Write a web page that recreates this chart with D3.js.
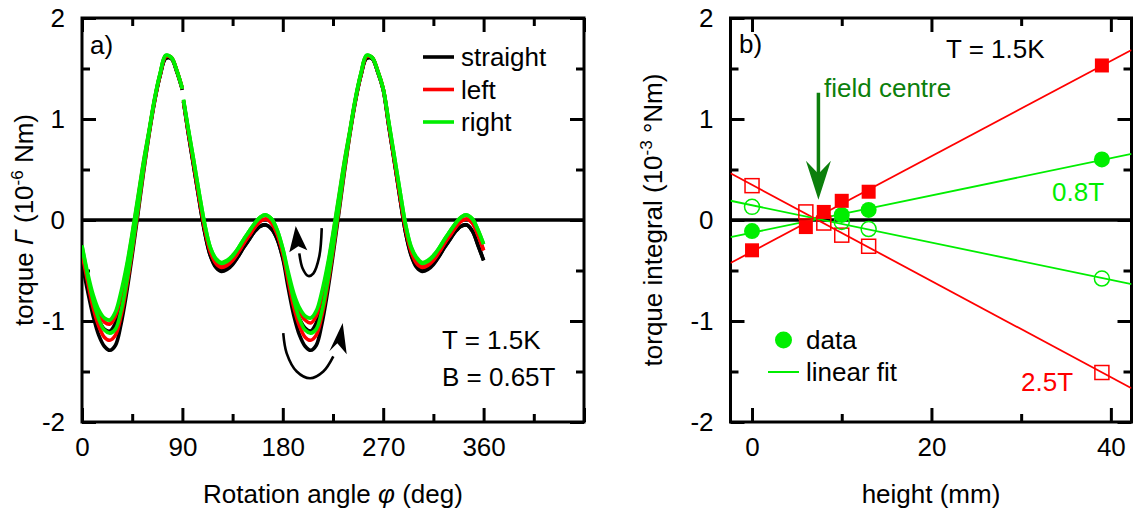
<!DOCTYPE html>
<html><head><meta charset="utf-8">
<script src="https://cdn.jsdelivr.net/npm/d3@7"></script>
<style>body{margin:0;background:#fff}svg{display:block}text{font-family:"Liberation Sans",Arial,Helvetica,sans-serif}</style>
</head><body><svg id="c" width="1136" height="514"></svg>
<script>
// ---------- Panel a) data: torque vs rotation angle ----------
const angles = [0,5,10,15,20,25,30,35,40,45,50,55,60,65,70,75,80,85,90,
  91,95,100,105,110,115,120,125,130,135,140,145,150,155,160,165,170,175,
  180,185,190,195,200,205,210,215,220,225,230,235,240,245,250,255,260,265,270,
  275,280,285,290,295,300,305,310,315,320,325,330,335,340,345,350,355,360];
const gapAfter = 90; // data missing between 90 and 91 deg

const greenDown = [-0.25,-0.52,-0.74,-0.89,-0.97,-0.99,-0.91,-0.71,-0.45,-0.13,0.22,0.57,0.88,1.20,1.45,1.63,1.61,1.48,1.30,
  1.19,0.92,0.60,0.27,-0.04,-0.27,-0.38,-0.42,-0.40,-0.35,-0.28,-0.19,-0.11,-0.03,0.03,0.05,0.01,-0.10,
  -0.28,-0.52,-0.73,-0.87,-0.95,-0.97,-0.90,-0.71,-0.45,-0.13,0.22,0.57,0.88,1.20,1.45,1.63,1.61,1.48,1.30,
  0.97,0.63,0.29,-0.04,-0.26,-0.37,-0.42,-0.40,-0.35,-0.28,-0.19,-0.11,-0.03,0.03,0.05,0.01,-0.10,-0.24];
const greenUp = [-0.26,-0.55,-0.80,-0.98,-1.09,-1.12,-1.08,-0.90,-0.62,-0.28,0.10,0.50,0.86,1.19,1.45,1.63,1.61,1.48,1.30,
  1.19,0.92,0.60,0.27,-0.04,-0.27,-0.39,-0.43,-0.41,-0.36,-0.28,-0.19,-0.11,-0.03,0.03,0.05,0.01,-0.10,
  -0.29,-0.55,-0.80,-0.98,-1.09,-1.12,-1.08,-0.90,-0.62,-0.28,0.10,0.50,0.86,1.19,1.45,1.63,1.61,1.48,1.30,
  0.97,0.63,0.29,-0.04,-0.27,-0.38,-0.43,-0.41,-0.36,-0.28,-0.19,-0.11,-0.03,0.03,0.05,0.01,-0.10,-0.24];
const redDown = [-0.31,-0.57,-0.78,-0.93,-1.01,-1.03,-0.95,-0.75,-0.48,-0.15,0.20,0.56,0.87,1.19,1.44,1.62,1.61,1.48,1.30,
  1.18,0.90,0.57,0.23,-0.08,-0.31,-0.42,-0.46,-0.44,-0.39,-0.32,-0.23,-0.15,-0.07,-0.01,0.01,-0.03,-0.14,
  -0.32,-0.56,-0.77,-0.91,-0.99,-1.02,-0.95,-0.75,-0.48,-0.15,0.20,0.56,0.87,1.19,1.44,1.62,1.61,1.48,1.30,
  0.95,0.60,0.25,-0.08,-0.30,-0.42,-0.46,-0.44,-0.39,-0.32,-0.23,-0.15,-0.07,-0.01,0.01,-0.03,-0.15,-0.30];
const redUp = [-0.32,-0.61,-0.87,-1.05,-1.16,-1.19,-1.14,-0.95,-0.66,-0.31,0.08,0.48,0.85,1.18,1.44,1.62,1.61,1.48,1.30,
  1.18,0.90,0.57,0.23,-0.08,-0.31,-0.43,-0.47,-0.45,-0.40,-0.32,-0.23,-0.15,-0.07,-0.01,0.01,-0.03,-0.14,
  -0.33,-0.61,-0.87,-1.05,-1.16,-1.19,-1.14,-0.95,-0.66,-0.31,0.08,0.48,0.85,1.18,1.44,1.62,1.61,1.48,1.30,
  0.95,0.60,0.25,-0.08,-0.31,-0.43,-0.47,-0.45,-0.40,-0.32,-0.23,-0.15,-0.07,-0.01,0.01,-0.03,-0.15,-0.30];
const blackDown = [-0.41,-0.64,-0.84,-0.99,-1.08,-1.10,-1.02,-0.80,-0.52,-0.18,0.18,0.54,0.86,1.18,1.43,1.60,1.60,1.47,1.29,
  1.17,0.88,0.54,0.20,-0.12,-0.35,-0.46,-0.50,-0.48,-0.43,-0.36,-0.27,-0.19,-0.11,-0.06,-0.05,-0.09,-0.19,
  -0.37,-0.61,-0.83,-0.98,-1.07,-1.10,-1.02,-0.80,-0.52,-0.18,0.18,0.54,0.86,1.18,1.43,1.60,1.60,1.47,1.29,
  0.93,0.58,0.22,-0.12,-0.34,-0.46,-0.50,-0.48,-0.43,-0.36,-0.27,-0.19,-0.11,-0.06,-0.05,-0.11,-0.25,-0.40];
const blackUp = [-0.42,-0.70,-0.95,-1.14,-1.25,-1.29,-1.24,-1.03,-0.72,-0.35,0.05,0.46,0.84,1.17,1.43,1.60,1.60,1.47,1.29,
  1.17,0.88,0.54,0.20,-0.12,-0.35,-0.47,-0.51,-0.49,-0.44,-0.36,-0.27,-0.19,-0.11,-0.06,-0.05,-0.09,-0.19,
  -0.38,-0.68,-0.95,-1.14,-1.25,-1.29,-1.24,-1.03,-0.72,-0.35,0.05,0.46,0.84,1.17,1.43,1.60,1.60,1.47,1.29,
  0.93,0.58,0.22,-0.12,-0.35,-0.47,-0.51,-0.49,-0.44,-0.36,-0.27,-0.19,-0.11,-0.06,-0.05,-0.11,-0.25,-0.40];

const seriesNamesA = ["straight","left","right"];
const seriesColorsA = ["#000000","#ff0000","#00ee00"];
const xTickValsA = [0,90,180,270,360,450];
const xTickLabelsA = ["0","90","180","270","360",""];
const xMinorA = [45,135,225,315,405];
const yTickVals = [-2,-1,0,1,2];
const yTickLabels = ["-2","-1","0","1","2"];
const yMinor = [-1.5,-0.5,0.5,1.5];

// sweep-direction arrows (angle, torque)
const arrowSmallPath = [[214.9,-0.08],[212.7,-0.36],[207.3,-0.53],[202.9,-0.555],[197.8,-0.48],[194.8,-0.33]];
const arrowSmallHead = [[191.6,-0.06],[202.0,-0.30],[193.9,-0.26],[185.8,-0.32]];
const arrowBigPath = [[180.4,-1.12],[183.5,-1.32],[192.5,-1.50],[204.4,-1.567],[216.3,-1.50],[225.3,-1.35]];
const arrowBigHead = [[233.7,-1.02],[221.7,-1.30],[228.9,-1.22],[237.3,-1.33]];

// ---------- Panel b) data: torque integral vs height ----------
const heights25 = [0,6,8,10,13,39];
const int25Filled = [-0.30,-0.07,0.08,0.19,0.28,1.53];
const int25Open = [0.34,0.08,-0.03,-0.15,-0.26,-1.51];
const heights08 = [0,10,13,39];
const int08Filled = [-0.11,0.05,0.10,0.60];
const int08Open = [0.13,-0.02,-0.09,-0.58];
const xTickValsB = [0,20,40];
const xTickLabelsB = ["0","20","40"];
const xMinorB = [10,30];
const fieldCentre = {h: 7.4, top: 1.26, tip: 0.2};

// ---------- drawing ----------
const svg = d3.select("#c");
const FS = 26;
const RED = "#ff0000", GREEN = "#00ee00", DKGREEN = "#0c7f0c";
const yTop = 18, yBot = 422;
const y = d3.scaleLinear().domain([-2,2]).range([yBot, yTop]);
const xA = d3.scaleLinear().domain([0,450]).range([82,584]);
const xB = d3.scaleLinear().domain([-2.4,42.3]).range([730.5,1131.5]);

function frame(x, yTitleX, yTitle, xTitle, xTicks, xLabels, xMinor, clipId){
  const [x0,x1] = x.range();
  const g = svg.append("g");
  const maj = 14, mn = 8, tw = 3;
  const tickStyle = sel => { sel.select(".domain").remove(); sel.selectAll("line").attr("stroke","#000").attr("stroke-width",tw);
    sel.selectAll("text").attr("font-size",FS).attr("fill","#000").style("font-family",'"Liberation Sans",Arial,sans-serif'); };
  g.append("g").attr("transform",`translate(0,${yBot})`)
    .call(d3.axisBottom(x).tickValues(xTicks).tickSize(-maj).tickPadding(16).tickFormat((d,i)=>xLabels[i])).call(tickStyle);
  g.append("g").attr("transform",`translate(0,${yBot})`)
    .call(d3.axisBottom(x).tickValues(xMinor).tickSize(-mn).tickFormat("")).call(tickStyle);
  g.append("g").attr("transform",`translate(0,${yTop})`)
    .call(d3.axisTop(x).tickValues(xTicks).tickSize(-maj).tickFormat("")).call(tickStyle);
  g.append("g").attr("transform",`translate(0,${yTop})`)
    .call(d3.axisTop(x).tickValues(xMinor).tickSize(-mn).tickFormat("")).call(tickStyle);
  g.append("g").attr("transform",`translate(${x0},0)`)
    .call(d3.axisLeft(y).tickValues(yTickVals).tickSize(-maj).tickPadding(17).tickFormat((d,i)=>yTickLabels[i])).call(tickStyle);
  g.append("g").attr("transform",`translate(${x0},0)`)
    .call(d3.axisLeft(y).tickValues(yMinor).tickSize(-mn).tickFormat("")).call(tickStyle);
  g.append("g").attr("transform",`translate(${x1},0)`)
    .call(d3.axisRight(y).tickValues(yTickVals).tickSize(-maj).tickFormat("")).call(tickStyle);
  g.append("g").attr("transform",`translate(${x1},0)`)
    .call(d3.axisRight(y).tickValues(yMinor).tickSize(-mn).tickFormat("")).call(tickStyle);
  g.append("rect").attr("x",x0).attr("y",yTop).attr("width",x1-x0).attr("height",yBot-yTop)
    .attr("fill","none").attr("stroke","#000").attr("stroke-width",3);
  g.append("line").attr("x1",x0).attr("x2",x1).attr("y1",y(0)).attr("y2",y(0)).attr("stroke","#000").attr("stroke-width",3.5);
  const xt = g.append("text").attr("x",(x0+x1)/2).attr("y",503).attr("text-anchor","middle").attr("font-size",FS);
  xTitle(xt);
  const yt = g.append("text").attr("transform",`translate(${yTitleX},${(yTop+yBot)/2}) rotate(-90)`)
    .attr("text-anchor","middle").attr("font-size",FS);
  yTitle(yt);
  svg.append("clipPath").attr("id",clipId).append("rect").attr("x",x0).attr("y",yTop).attr("width",x1-x0).attr("height",yBot-yTop);
  return g;
}

// Panel a frame
frame(xA, 33,
  t => { t.append("tspan").text("torque ");
         t.append("tspan").attr("font-style","italic").text("Γ");
         t.append("tspan").text(" (10");
         t.append("tspan").attr("font-size",17).attr("dy",-10).text("-6");
         t.append("tspan").attr("dy",10).text(" Nm)"); },
  t => { t.append("tspan").text("Rotation angle ");
         t.append("tspan").attr("font-style","italic").text("φ");
         t.append("tspan").text(" (deg)"); },
  xTickValsA, xTickLabelsA, xMinorA, "clipA");

const lineA = d3.line().x(d=>xA(d[0])).y(d=>y(d[1])).curve(d3.curveCatmullRom.alpha(0.5));
const curvesA = [[blackUp,blackDown],[redUp,redDown],[greenUp,greenDown]];
const gA = svg.append("g").attr("clip-path","url(#clipA)");
curvesA.forEach((pair,si)=>{
  pair.forEach(vals=>{
    const pts = angles.map((a,i)=>[a,vals[i]]);
    const segs = [pts.filter(p=>p[0]<=gapAfter), pts.filter(p=>p[0]>gapAfter)];
    segs.forEach(s=>gA.append("path").attr("d",lineA(s)).attr("fill","none")
      .attr("stroke",seriesColorsA[si]).attr("stroke-width",3.6).attr("stroke-linejoin","round"));
  });
});

const arrLine = d3.line().x(d=>xA(d[0])).y(d=>y(d[1])).curve(d3.curveCatmullRom);
[[arrowSmallPath,arrowSmallHead],[arrowBigPath,arrowBigHead]].forEach(([p,h])=>{
  svg.append("path").attr("d",arrLine(p)).attr("fill","none").attr("stroke","#000").attr("stroke-width",2.6);
  svg.append("path").attr("d",d3.line().x(d=>xA(d[0])).y(d=>y(d[1]))(h)+"Z").attr("fill","#000");
});

svg.append("text").attr("x",90).attr("y",54).attr("font-size",FS).text("a)");
seriesNamesA.forEach((n,i)=>{
  const yy = 57 + i*32.5;
  svg.append("line").attr("x1",423).attr("x2",454).attr("y1",yy).attr("y2",yy)
    .attr("stroke",seriesColorsA[i]).attr("stroke-width",3.6);
  svg.append("text").attr("x",461).attr("y",yy).attr("dy","0.35em").attr("font-size",FS).text(n);
});
svg.append("text").attr("x",442).attr("y",340).attr("dy","0.35em").attr("font-size",FS).text("T = 1.5K");
svg.append("text").attr("x",442).attr("y",377).attr("dy","0.35em").attr("font-size",FS).text("B = 0.65T");

// Panel b frame
frame(xB, 662,
  t => { t.append("tspan").text("torque integral (10");
         t.append("tspan").attr("font-size",17).attr("dy",-10).text("-3");
         t.append("tspan").attr("dy",10).text(" °Nm)"); },
  t => { t.text("height (mm)"); },
  xTickValsB, xTickLabelsB, xMinorB, "clipB");

function fit(xs, ys){
  const mx = d3.mean(xs), my = d3.mean(ys);
  let sxy=0, sxx=0;
  xs.forEach((x,i)=>{ sxy += (x-mx)*(ys[i]-my); sxx += (x-mx)*(x-mx); });
  const b = sxy/sxx; return {a: my-b*mx, b};
}
const gB = svg.append("g").attr("clip-path","url(#clipB)");
const [hx0,hx1] = xB.domain();
[[heights25,int25Filled,RED],[heights25,int25Open,RED],[heights08,int08Filled,GREEN],[heights08,int08Open,GREEN]].forEach(([xs,ys,c])=>{
  const f = fit(xs,ys);
  gB.append("line").attr("x1",xB(hx0)).attr("x2",xB(hx1)).attr("y1",y(f.a+f.b*hx0)).attr("y2",y(f.a+f.b*hx1))
    .attr("stroke",c).attr("stroke-width",1.8);
});
const sq = 14;
gB.selectAll(".os").data(heights25.map((h,i)=>[h,int25Open[i]])).join("rect")
  .attr("x",d=>xB(d[0])-sq/2).attr("y",d=>y(d[1])-sq/2).attr("width",sq).attr("height",sq)
  .attr("fill","none").attr("stroke",RED).attr("stroke-width",1.5);
gB.selectAll(".oc").data(heights08.map((h,i)=>[h,int08Open[i]])).join("circle")
  .attr("cx",d=>xB(d[0])).attr("cy",d=>y(d[1])).attr("r",7.5).attr("fill","none").attr("stroke",GREEN).attr("stroke-width",1.5);
gB.selectAll(".fc").data(heights08.map((h,i)=>[h,int08Filled[i]])).join("circle")
  .attr("cx",d=>xB(d[0])).attr("cy",d=>y(d[1])).attr("r",8).attr("fill",GREEN);
gB.selectAll(".fs").data(heights25.map((h,i)=>[h,int25Filled[i]])).join("rect")
  .attr("x",d=>xB(d[0])-sq/2).attr("y",d=>y(d[1])-sq/2).attr("width",sq).attr("height",sq).attr("fill",RED);

const fx = xB(fieldCentre.h);
svg.append("line").attr("x1",fx).attr("x2",fx).attr("y1",y(fieldCentre.top)).attr("y2",y(fieldCentre.tip)-14)
  .attr("stroke",DKGREEN).attr("stroke-width",3.5);
const ty = y(fieldCentre.tip);
svg.append("path").attr("d",`M${fx},${ty} L${fx-12.5},${ty-39} L${fx},${ty-26} L${fx+12.5},${ty-39} Z`).attr("fill",DKGREEN);
svg.append("text").attr("x",824).attr("y",97).attr("font-size",FS).attr("fill",DKGREEN).text("field centre");

svg.append("text").attr("x",739).attr("y",53).attr("font-size",FS).text("b)");
svg.append("text").attr("x",946).attr("y",49).attr("dy","0.35em").attr("font-size",FS).text("T = 1.5K");
svg.append("text").attr("x",1052).attr("y",192).attr("dy","0.35em").attr("font-size",FS).attr("fill",GREEN).text("0.8T");
svg.append("text").attr("x",1021).attr("y",382).attr("dy","0.35em").attr("font-size",FS).attr("fill",RED).text("2.5T");

svg.append("circle").attr("cx",783.5).attr("cy",340).attr("r",8.5).attr("fill",GREEN);
svg.append("text").attr("x",806).attr("y",340).attr("dy","0.35em").attr("font-size",FS).text("data");
svg.append("line").attr("x1",768).attr("x2",799).attr("y1",372).attr("y2",372).attr("stroke",GREEN).attr("stroke-width",2);
svg.append("text").attr("x",806).attr("y",372).attr("dy","0.35em").attr("font-size",FS).text("linear fit");
</script></body></html>
